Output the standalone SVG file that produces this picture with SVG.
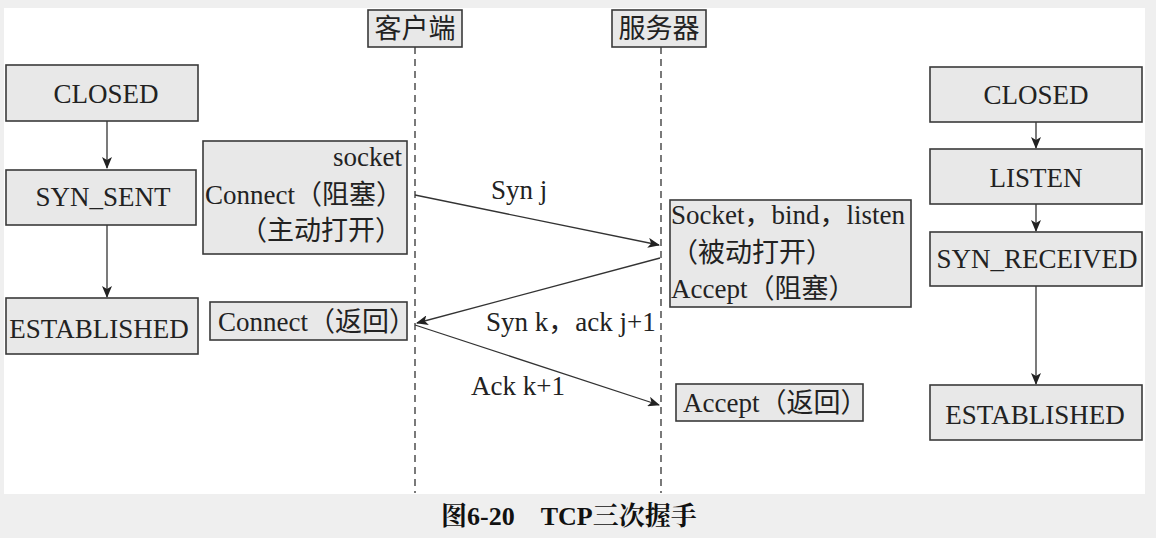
<svg xmlns="http://www.w3.org/2000/svg" width="1156" height="538" viewBox="0 0 1156 538">
<style>
.bx{fill:#e8e8e8;stroke:#3a3a3a;stroke-width:1.6}
.t{font-family:"Liberation Serif","Noto Sans CJK SC",serif;font-size:27px;fill:#222}
.c{text-anchor:middle}
.r{text-anchor:end}
.ln{stroke:#333;stroke-width:1.3;fill:none}
.ds{stroke:#333;stroke-width:1.3;stroke-dasharray:7,5;fill:none}
.cap{font-family:"Liberation Serif","Noto Serif CJK SC","Noto Sans CJK SC",serif;font-size:26px;font-weight:bold;fill:#111}
</style>
<defs>
<marker id="ah" viewBox="0 0 12 10" refX="11" refY="5" markerWidth="12" markerHeight="10" markerUnits="userSpaceOnUse" orient="auto">
<path d="M0,0 L12,5 L0,10 L3,5 Z" fill="#222"/>
</marker>
</defs>
<rect x="0" y="0" width="1156" height="538" fill="#efefef"/>
<rect x="4" y="8" width="1141" height="486" fill="#ffffff"/>

<g id="connectors">
<line class="ds" x1="415" y1="47" x2="415" y2="493"/>
<line class="ds" x1="661" y1="47" x2="661" y2="493"/>
<line class="ln" x1="107" y1="121" x2="107" y2="168" marker-end="url(#ah)"/>
<line class="ln" x1="107" y1="225" x2="107" y2="297" marker-end="url(#ah)"/>
<line class="ln" x1="1036" y1="122" x2="1036" y2="148" marker-end="url(#ah)"/>
<line class="ln" x1="1036" y1="204" x2="1036" y2="231" marker-end="url(#ah)"/>
<line class="ln" x1="1036" y1="286" x2="1036" y2="384" marker-end="url(#ah)"/>
<line class="ln" x1="415" y1="195" x2="659" y2="245" marker-end="url(#ah)"/>
<line class="ln" x1="660" y1="258" x2="417" y2="323" marker-end="url(#ah)"/>
<line class="ln" x1="415" y1="325" x2="659" y2="405" marker-end="url(#ah)"/>
<text class="t" x="491" y="199">Syn j</text>
<text class="t" x="486" y="331">Syn k，ack j+1</text>
<text class="t" x="471" y="395">Ack k+1</text>
</g>

<g id="client-head"><rect class="bx" x="368" y="10" width="94" height="37"/><text class="t c" x="415" y="38">客户端</text></g>
<g id="server-head"><rect class="bx" x="612" y="10" width="94" height="37"/><text class="t c" x="659" y="38">服务器</text></g>

<g id="c-closed"><rect class="bx" x="6" y="65" width="192" height="56"/><text class="t c" x="106" y="103">CLOSED</text></g>
<g id="c-synsent"><rect class="bx" x="6" y="170" width="190" height="55"/><text class="t c" x="103" y="206">SYN_SENT</text></g>
<g id="c-established"><rect class="bx" x="6" y="298" width="192" height="56"/><text class="t c" x="99" y="338">ESTABLISHED</text></g>

<g id="c-socket"><rect class="bx" x="203" y="141" width="204" height="113"/>
<text class="t r" x="402" y="166">socket</text>
<text class="t" x="205" y="204">Connect（阻塞）</text>
<text class="t r" x="402" y="240">（主动打开）</text></g>
<g id="c-return"><rect class="bx" x="210" y="302" width="197" height="38"/><text class="t" x="218" y="331">Connect（返回）</text></g>

<g id="s-socket"><rect class="bx" x="670" y="200" width="241" height="107"/>
<text class="t" x="671" y="224">Socket，bind，listen</text>
<text class="t" x="671" y="262">（被动打开）</text>
<text class="t" x="671" y="298">Accept（阻塞）</text></g>
<g id="s-return"><rect class="bx" x="676" y="384" width="187" height="37"/><text class="t" x="683" y="412">Accept（返回）</text></g>

<g id="s-closed"><rect class="bx" x="930" y="67" width="212" height="55"/><text class="t c" x="1036" y="104">CLOSED</text></g>
<g id="s-listen"><rect class="bx" x="930" y="149" width="212" height="55"/><text class="t c" x="1036" y="187">LISTEN</text></g>
<g id="s-synrcvd"><rect class="bx" x="930" y="232" width="212" height="54"/><text class="t c" x="1037" y="268">SYN_RECEIVED</text></g>
<g id="s-established"><rect class="bx" x="930" y="385" width="212" height="55"/><text class="t c" x="1035" y="424">ESTABLISHED</text></g>

<text class="cap" x="441" y="525">图6-20　TCP三次握手</text>
</svg>
